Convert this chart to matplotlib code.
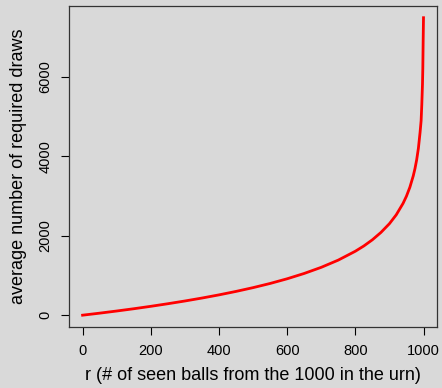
import matplotlib
matplotlib.use('Agg')
import matplotlib.pyplot as plt

# Values (average draws needed to have seen r distinct balls)
r_seen = [0, 50, 100, 150, 200, 250, 300, 350, 400, 450, 500, 550, 600, 650, 700,
          750, 800, 825, 850, 875, 900, 920, 940, 950, 960, 970, 975, 980, 985,
          990, 993, 995, 997, 998, 999, 1000]
avg_draws = [0, 51, 105, 162, 223, 288, 357, 431, 511, 598, 693, 798, 916, 1050, 1204,
             1386, 1609, 1742, 1897, 2081, 2302, 2525, 2813, 2995, 3219, 3507, 3689, 3912, 4199,
             4605, 4892, 5298, 5809, 6214, 6907, 7485]

x_ticks = [0, 200, 400, 600, 800, 1000]
y_ticks = [0, 2000, 4000, 6000]

BG = '#d9d9d9'
plt.rcParams['font.family'] = ['Liberation Sans', 'DejaVu Sans']

fig = plt.figure(figsize=(4.42, 3.88), dpi=100, facecolor=BG)
ax = fig.add_axes([0.156, 0.157, 0.833, 0.828], facecolor=BG)

ax.plot(r_seen, avg_draws, color='red', lw=2)

# R-style 4% padding around the data range
xr = max(r_seen) - min(r_seen)
yr = max(avg_draws) - min(avg_draws)
ax.set_xlim(min(r_seen) - 0.04 * xr, max(r_seen) + 0.04 * xr)
ax.set_ylim(min(avg_draws) - 0.04 * yr, max(avg_draws) + 0.04 * yr)

ax.set_xticks(x_ticks)
ax.set_yticks(y_ticks)
ax.set_yticklabels([str(v) for v in y_ticks], rotation=90, va='center')
ax.tick_params(direction='out', length=6, width=0.8, colors='black', labelsize=10.5, pad=6)

for s in ax.spines.values():
    s.set_color('#333333')
    s.set_linewidth(0.9)

ax.set_xlabel('r (# of seen balls from the 1000 in the urn)', fontsize=13, labelpad=7)
ax.set_ylabel('average number of required draws', fontsize=13, labelpad=8)

fig.savefig('out.png', dpi=100, facecolor=BG)
